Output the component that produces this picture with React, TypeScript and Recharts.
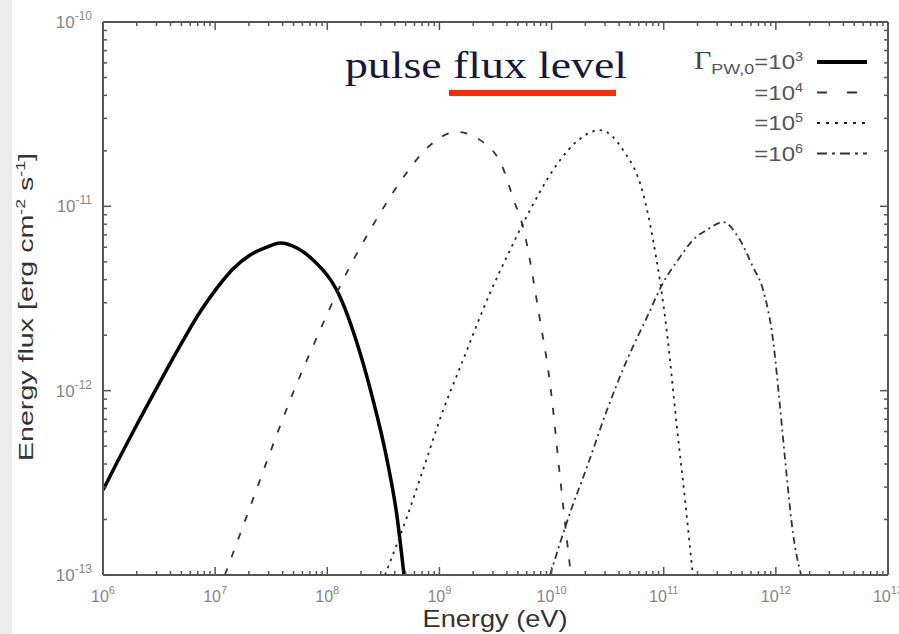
import React from "react";
import { LineChart, Line, XAxis, YAxis, Legend } from "recharts";

// energy (eV) and flux (erg cm^-2 s^-1), one pair of arrays per pulsar wind Lorentz factor
const g3Energy = [1e6, 1.33e6, 1.85e6, 2.63e6, 3.72e6, 5.17e6, 7.33e6, 1.04e7, 1.44e7, 2.05e7, 2.9e7, 3.79e7, 5.37e7, 7.46e7, 1.3e8, 1.96e8, 2.56e8, 3.41e8, 4.19e8, 4.83e8];
const g3Flux = [2.89e-13, 4.06e-13, 5.97e-13, 8.89e-13, 1.31e-12, 1.87e-12, 2.67e-12, 3.61e-12, 4.57e-12, 5.45e-12, 6.01e-12, 6.32e-12, 5.94e-12, 5.12e-12, 3.22e-12, 1.6e-12, 8.89e-13, 4.21e-13, 2.07e-13, 1e-13];

const g4Energy = [1.22e7, 1.96e7, 3.08e7, 4.94e7, 8.09e7, 1.38e8, 2.56e8, 5.14e8, 7.75e8, 1.43e9, 2.45e9, 3.69e9, 4.53e9, 5.56e9, 7.88e9, 9.68e9, 1.19e10, 1.37e10, 1.49e10];
const g4Flux = [1e-13, 2.17e-13, 4.59e-13, 9.7e-13, 1.95e-12, 3.98e-12, 7.92e-12, 1.53e-11, 2.07e-11, 2.53e-11, 2.23e-11, 1.61e-11, 1.11e-11, 7.73e-12, 2.42e-12, 1.1e-12, 3.4e-13, 1.55e-13, 1e-13];

const g5Energy = [3.27e8, 5.14e8, 7.14e8, 1.08e9, 1.53e9, 2.83e9, 4.26e9, 6.43e9, 1.03e10, 1.55e10, 2.7e10, 4.34e10, 6.53e10, 8.04e10, 1.07e11, 1.31e11, 1.55e11, 1.79e11, 1.82e11];
const g5Flux = [1e-13, 2.07e-13, 3.72e-13, 7.85e-13, 1.34e-12, 3.39e-12, 5.79e-12, 9.55e-12, 1.57e-11, 2.15e-11, 2.59e-11, 2.02e-11, 1.18e-11, 6.56e-12, 2.06e-12, 6.35e-13, 2.55e-13, 1.1e-13, 1e-13];

const g6Energy = [9.68e9, 1.46e10, 2.07e10, 3.12e10, 4.71e10, 7.1e10, 9.86e10, 1.4e11, 1.82e11, 2.43e11, 3.38e11, 4.79e11, 6.25e11, 7.69e11, 9.44e11, 1.09e12, 1.26e12, 1.42e12, 1.68e12];
const g6Flux = [1e-13, 2.17e-13, 3.86e-13, 7.85e-13, 1.47e-12, 2.51e-12, 3.84e-12, 5.31e-12, 6.56e-12, 7.45e-12, 8.22e-12, 6.56e-12, 4.69e-12, 3.52e-12, 1.88e-12, 8.15e-13, 3.27e-13, 1.69e-13, 1e-13];

const xTicks = [1e6, 1e7, 1e8, 1e9, 1e10, 1e11, 1e12, 1e13];
const xTickExp = ["6", "7", "8", "9", "10", "11", "12", "13"];
const yTicks = [1e-13, 1e-12, 1e-11, 1e-10];
const yTickExp = ["-13", "-12", "-11", "-10"];
const legendExp = ["3", "4", "5", "6"];

const zip = (es: number[], fs: number[]) => es.map((e, i) => ({ e, f: fs[i] }));

const withMinor = (majors: number[]) => {
  const out: number[] = [];
  majors.forEach((m, i) => {
    out.push(m);
    if (i < majors.length - 1) for (let k = 2; k <= 9; k++) out.push(m * k);
  });
  return out;
};

const majorIdx = (v: number, majors: number[]) =>
  majors.findIndex((m) => Math.abs(Math.log10(v) - Math.log10(m)) < 1e-6);

const AXIS = "#555";
const TICK_TEXT = "#858585";
const FONT = "'Liberation Sans', Arial, sans-serif";

const BottomTick = (props: any) => {
  const { x, y, payload } = props;
  const i = majorIdx(payload.value, xTicks);
  return (
    <g>
      <line x1={x} x2={x} y1={y} y2={y - (i >= 0 ? 8 : 4)} stroke={AXIS} strokeWidth={1.5} />
      {i >= 0 && (
        <text x={x} y={y + 27} textAnchor="middle" fill={TICK_TEXT} fontSize={16} fontFamily={FONT}>
          10<tspan dy={-8} fontSize={11}>{xTickExp[i]}</tspan>
        </text>
      )}
    </g>
  );
};

const TopTick = (props: any) => {
  const { x, y, payload } = props;
  const i = majorIdx(payload.value, xTicks);
  return <line x1={x} x2={x} y1={y} y2={y + (i >= 0 ? 8 : 4)} stroke={AXIS} strokeWidth={1.5} />;
};

const LeftTick = (props: any) => {
  const { x, y, payload } = props;
  const i = majorIdx(payload.value, yTicks);
  return (
    <g>
      <line x1={x} x2={x + (i >= 0 ? 8 : 4)} y1={y} y2={y} stroke={AXIS} strokeWidth={1.5} />
      {i >= 0 && (
        <text x={x - 11} y={y + 6} textAnchor="end" fill={TICK_TEXT} fontSize={17} fontFamily={FONT}>
          10<tspan dy={-8} fontSize={12}>{yTickExp[i]}</tspan>
        </text>
      )}
    </g>
  );
};

const RightTick = (props: any) => {
  const { x, y, payload } = props;
  const i = majorIdx(payload.value, yTicks);
  return <line x1={x} x2={x - (i >= 0 ? 8 : 4)} y1={y} y2={y} stroke={AXIS} strokeWidth={1.5} />;
};

const series = [
  { key: "g3", data: zip(g3Energy, g3Flux), dash: undefined, width: 3.5, color: "#000", legendDash: undefined },
  { key: "g4", data: zip(g4Energy, g4Flux), dash: "7 12", width: 1.8, color: "#333", legendDash: "10 20" },
  { key: "g5", data: zip(g5Energy, g5Flux), dash: "2.5 5", width: 1.8, color: "#222", legendDash: "3 6" },
  { key: "g6", data: zip(g6Energy, g6Flux), dash: "7 4 2 4", width: 1.8, color: "#333", legendDash: "10 5 3 5" },
];

const LegendBox = () => (
  <svg width={290} height={140}>
    {series.map((s, i) => {
      const y = 22 + i * 30.5;
      return (
        <g key={s.key}>
          <text transform={`translate(203,${y + 7}) scale(1.2,1)`} textAnchor="end" fill="#555" fontSize={20} fontFamily={FONT}>
            {i === 0 && (
              <>
                <tspan fontFamily="'Liberation Serif', serif" fontSize={25} fill="#444">Γ</tspan>
                <tspan dy={5} fontSize={15}>PW,0</tspan>
                <tspan dy={-5}>=10</tspan>
              </>
            )}
            {i > 0 && "=10"}
            <tspan dy={-8} fontSize={12}>{legendExp[i]}</tspan>
          </text>
          <line x1={217} x2={267} y1={y} y2={y} stroke={s.color} strokeWidth={i === 0 ? 4 : 1.8} strokeDasharray={s.legendDash} />
        </g>
      );
    })}
  </svg>
);

export default function App() {
  return (
    <div style={{ position: "absolute", left: 0, top: 0, width: 899, height: 634, background: "#fff", overflow: "hidden" }}>
      <div style={{ position: "absolute", left: 0, top: 0, width: 12, height: 634, background: "#ececec" }} />
      <div style={{ position: "absolute", left: 0, top: 0 }}>
        <LineChart width={899} height={634} margin={{ top: 12, right: 1, bottom: 29, left: 83 }}>
          <XAxis
            dataKey="e"
            type="number"
            scale="log"
            domain={[1e6, 1e13]}
            allowDataOverflow
            ticks={withMinor(xTicks)}
            interval={0}
            height={30}
            tickSize={0}
            tickMargin={0}
            tickLine={false}
            tick={<BottomTick />}
            axisLine={{ stroke: AXIS, strokeWidth: 2 }}
            label={{
              content: () => (
                <text x={495} y={627} textAnchor="middle" fill="#333" fontSize={24} fontFamily={FONT} textLength={145} lengthAdjust="spacingAndGlyphs">
                  Energy (eV)
                </text>
              ),
            }}
          />
          <XAxis
            xAxisId="top"
            orientation="top"
            dataKey="e"
            type="number"
            scale="log"
            domain={[1e6, 1e13]}
            allowDataOverflow
            ticks={withMinor(xTicks)}
            interval={0}
            height={10}
            tickSize={0}
            tickMargin={0}
            tickLine={false}
            tick={<TopTick />}
            axisLine={{ stroke: AXIS, strokeWidth: 2 }}
          />
          <YAxis
            dataKey="f"
            type="number"
            scale="log"
            domain={[1e-13, 1e-10]}
            allowDataOverflow
            ticks={withMinor(yTicks)}
            interval={0}
            width={20}
            tickSize={0}
            tickMargin={0}
            tickLine={false}
            tick={<LeftTick />}
            axisLine={{ stroke: AXIS, strokeWidth: 2 }}
            label={{
              content: () => (
                <text
                  transform="translate(33,307) rotate(-90)"
                  textAnchor="middle"
                  fill="#333"
                  fontSize={21}
                  fontFamily={FONT}
                  textLength={308}
                  lengthAdjust="spacingAndGlyphs"
                >
                  Energy flux [erg cm<tspan dy={-8} fontSize={13}>-2</tspan>
                  <tspan dy={8}> s</tspan>
                  <tspan dy={-8} fontSize={13}>-1</tspan>
                  <tspan dy={8}>]</tspan>
                </text>
              ),
            }}
          />
          <YAxis
            yAxisId="right"
            orientation="right"
            dataKey="f"
            type="number"
            scale="log"
            domain={[1e-13, 1e-10]}
            allowDataOverflow
            ticks={withMinor(yTicks)}
            interval={0}
            width={10}
            tickSize={0}
            tickMargin={0}
            tickLine={false}
            tick={<RightTick />}
            axisLine={{ stroke: AXIS, strokeWidth: 2 }}
          />
          {series.map((s) => (
            <Line
              key={s.key}
              data={s.data}
              dataKey="f"
              type="monotone"
              stroke={s.color}
              strokeWidth={s.width}
              strokeDasharray={s.dash}
              dot={false}
              activeDot={false}
              isAnimationActive={false}
            />
          ))}
          <Legend
            layout="horizontal"
            verticalAlign="middle"
            align="center"
            content={() => <LegendBox />}
            wrapperStyle={{ left: 600, top: 40, width: 290, height: 140 }}
          />
        </LineChart>
      </div>
      <svg style={{ position: "absolute", left: 0, top: 0 }} width={899} height={634} pointerEvents="none">
        <text x={345} y={78} fill="#17173c" fontSize={38} fontFamily="'Liberation Serif', 'Times New Roman', serif" textLength={282} lengthAdjust="spacingAndGlyphs">
          pulse flux level
        </text>
        <rect x={449} y={90} width={167} height={6} fill="#ff2a00" />
      </svg>
    </div>
  );
}
